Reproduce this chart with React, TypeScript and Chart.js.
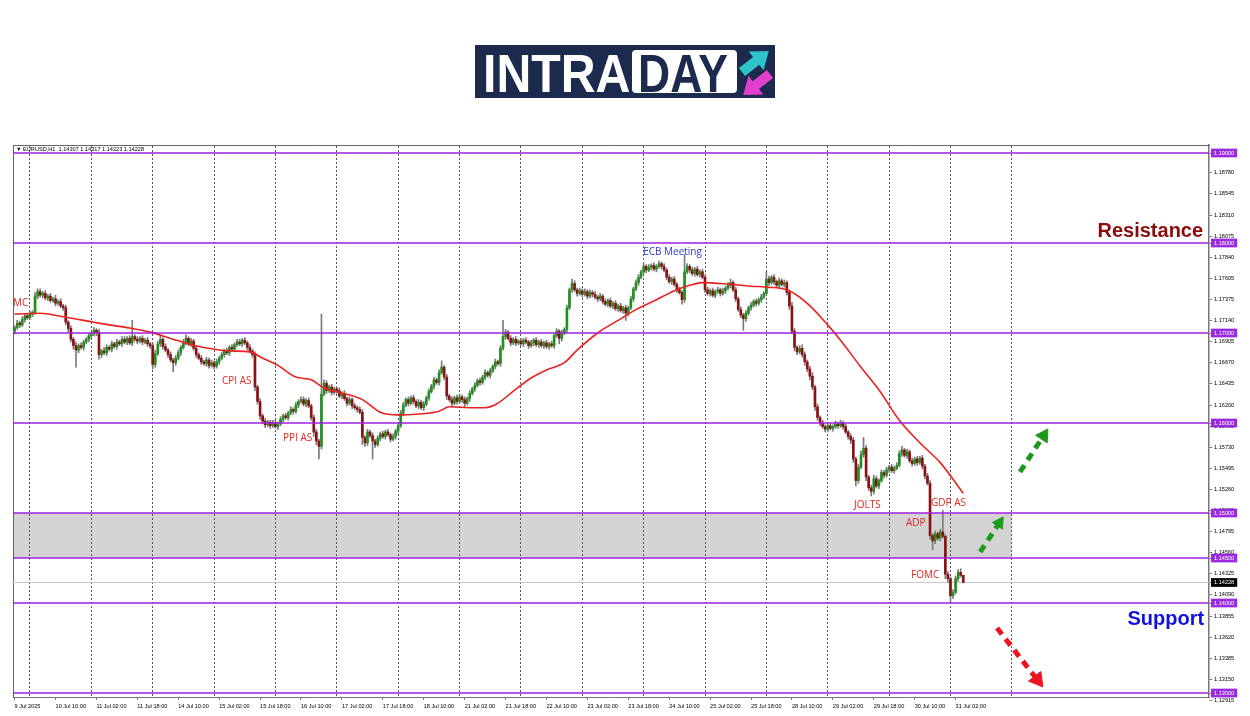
import React, { useEffect, useRef } from 'react';
import { Chart, registerables } from 'chart.js';

Chart.register(...registerables);

// ---------- Candle closes (H1 bars), one array per trading day ----------
const firstOpen = 1.1702;
const close09 = [1.1706, 1.1711, 1.1709, 1.1715, 1.1719, 1.1717];
const close10 = [1.1721, 1.1723, 1.1741, 1.1746, 1.1742, 1.1744, 1.1739, 1.1741, 1.1736, 1.1738, 1.1733, 1.1735, 1.1730, 1.1728, 1.1712, 1.1705, 1.1693, 1.1686, 1.1681, 1.1686, 1.1684, 1.1690, 1.1693, 1.1697];
const close11 = [1.1699, 1.1703, 1.1701, 1.1676, 1.1680, 1.1678, 1.1684, 1.1682, 1.1688, 1.1685, 1.1690, 1.1688, 1.1693, 1.1690, 1.1694, 1.1689, 1.1696, 1.1693, 1.1691, 1.1694, 1.1690, 1.1692, 1.1688, 1.1686];
const close14 = [1.1665, 1.1677, 1.1688, 1.1693, 1.1685, 1.1681, 1.1676, 1.1670, 1.1667, 1.1672, 1.1678, 1.1684, 1.1690, 1.1694, 1.1688, 1.1691, 1.1683, 1.1676, 1.1672, 1.1668, 1.1666, 1.1670, 1.1664, 1.1667];
const close15 = [1.1663, 1.1668, 1.1672, 1.1676, 1.1680, 1.1678, 1.1684, 1.1682, 1.1687, 1.1690, 1.1688, 1.1692, 1.1689, 1.1684, 1.1680, 1.1676, 1.1640, 1.1624, 1.1608, 1.1602, 1.1598, 1.1601, 1.1597, 1.1600];
const close16 = [1.1596, 1.1599, 1.1604, 1.1608, 1.1606, 1.1611, 1.1615, 1.1613, 1.1620, 1.1624, 1.1626, 1.1621, 1.1625, 1.1619, 1.1606, 1.1590, 1.1580, 1.1574, 1.1632, 1.1644, 1.1636, 1.1640, 1.1634, 1.1638];
const close17 = [1.1636, 1.1630, 1.1633, 1.1627, 1.1622, 1.1626, 1.1619, 1.1617, 1.1615, 1.1612, 1.1584, 1.1578, 1.1590, 1.1586, 1.1580, 1.1576, 1.1583, 1.1588, 1.1585, 1.1590, 1.1587, 1.1582, 1.1585, 1.1591];
const close18 = [1.1597, 1.1611, 1.1620, 1.1626, 1.1622, 1.1628, 1.1624, 1.1619, 1.1623, 1.1617, 1.1621, 1.1628, 1.1635, 1.1641, 1.1648, 1.1645, 1.1656, 1.1662, 1.1651, 1.1630, 1.1626, 1.1622, 1.1628, 1.1624];
const close21 = [1.1629, 1.1626, 1.1622, 1.1627, 1.1633, 1.1638, 1.1642, 1.1647, 1.1645, 1.1651, 1.1656, 1.1653, 1.1658, 1.1663, 1.1668, 1.1666, 1.1683, 1.1696, 1.1701, 1.1694, 1.1689, 1.1693, 1.1689, 1.1691];
const close22 = [1.1688, 1.1692, 1.1690, 1.1686, 1.1689, 1.1692, 1.1687, 1.1690, 1.1686, 1.1689, 1.1685, 1.1688, 1.1686, 1.1697, 1.1702, 1.1694, 1.1700, 1.1704, 1.1728, 1.1748, 1.1755, 1.1748, 1.1744, 1.1747];
const close23 = [1.1743, 1.1746, 1.1741, 1.1745, 1.1743, 1.1740, 1.1738, 1.1741, 1.1735, 1.1732, 1.1736, 1.1730, 1.1733, 1.1727, 1.1730, 1.1725, 1.1728, 1.1722, 1.1728, 1.1738, 1.1749, 1.1756, 1.1762, 1.1768];
const close24 = [1.1774, 1.1770, 1.1773, 1.1775, 1.1771, 1.1774, 1.1777, 1.1774, 1.1770, 1.1762, 1.1757, 1.1760, 1.1754, 1.1748, 1.1745, 1.1737, 1.1768, 1.1774, 1.1770, 1.1766, 1.1771, 1.1765, 1.1768, 1.1762];
const close25 = [1.1748, 1.1744, 1.1747, 1.1742, 1.1746, 1.1748, 1.1744, 1.1747, 1.1750, 1.1753, 1.1756, 1.1748, 1.1738, 1.1726, 1.1720, 1.1716, 1.1722, 1.1728, 1.1731, 1.1735, 1.1733, 1.1737, 1.1740, 1.1744];
const close28 = [1.1760, 1.1756, 1.1762, 1.1757, 1.1753, 1.1758, 1.1754, 1.1756, 1.1745, 1.1730, 1.1702, 1.1684, 1.1679, 1.1683, 1.1676, 1.1668, 1.1660, 1.1652, 1.1640, 1.1618, 1.1606, 1.1600, 1.1596, 1.1593];
const close29 = [1.1597, 1.1594, 1.1596, 1.1599, 1.1597, 1.1600, 1.1596, 1.1590, 1.1585, 1.1581, 1.1560, 1.1536, 1.1551, 1.1565, 1.1572, 1.1540, 1.1528, 1.1524, 1.1538, 1.1530, 1.1536, 1.1545, 1.1542, 1.1548];
const close30 = [1.1551, 1.1547, 1.1550, 1.1553, 1.1566, 1.1570, 1.1564, 1.1568, 1.1558, 1.1555, 1.1560, 1.1556, 1.1561, 1.1552, 1.1541, 1.1533, 1.1475, 1.1469, 1.1477, 1.1472, 1.1479, 1.1474, 1.1432, 1.1427];
const close31 = [1.1408, 1.1412, 1.1427, 1.1434, 1.14307, 1.14228];

// ---------- Upper / lower wick lengths in pips ----------
const up09 = [2, 3, 2, 3, 2, 3];
const dn09 = [3, 2, 3, 2, 3, 2];
const up10 = [3, 2, 4, 3, 3, 2, 3, 2, 3, 2, 4, 2, 3, 2, 3, 2, 3, 2, 4, 2, 3, 2, 2, 3];
const dn10 = [2, 3, 2, 3, 2, 3, 2, 3, 2, 2, 3, 2, 2, 3, 3, 4, 3, 4, 19, 3, 2, 3, 2, 3];
const up11 = [2, 3, 2, 3, 2, 4, 3, 2, 3, 2, 3, 2, 3, 3, 2, 3, 18, 2, 3, 2, 3, 2, 3, 2];
const dn11 = [3, 2, 4, 5, 3, 2, 3, 2, 3, 2, 3, 2, 3, 2, 3, 2, 3, 2, 3, 2, 3, 2, 3, 3];
const up14 = [3, 4, 3, 4, 2, 3, 2, 3, 2, 3, 3, 2, 3, 4, 2, 3, 2, 3, 2, 3, 2, 3, 2, 3];
const dn14 = [5, 3, 2, 3, 3, 2, 3, 2, 10, 3, 2, 3, 2, 3, 2, 3, 2, 3, 2, 3, 2, 3, 3, 2];
const up15 = [2, 3, 2, 3, 2, 3, 2, 3, 2, 3, 3, 2, 3, 2, 3, 2, 3, 2, 3, 2, 3, 2, 2, 3];
const dn15 = [3, 2, 3, 2, 3, 2, 3, 2, 3, 2, 2, 3, 2, 3, 2, 3, 4, 3, 4, 3, 3, 2, 3, 2];
const up16 = [3, 2, 3, 2, 3, 2, 3, 2, 3, 2, 3, 3, 2, 3, 2, 3, 3, 2, 89, 4, 3, 2, 3, 2];
const dn16 = [2, 3, 2, 3, 2, 3, 2, 3, 2, 3, 2, 2, 3, 2, 3, 5, 4, 14, 3, 2, 3, 2, 3, 2];
const up17 = [2, 3, 2, 3, 2, 3, 2, 3, 2, 3, 3, 2, 3, 2, 3, 2, 3, 2, 3, 2, 3, 2, 3, 2];
const dn17 = [3, 2, 3, 2, 3, 2, 3, 2, 3, 2, 8, 4, 3, 2, 20, 3, 2, 3, 2, 3, 2, 3, 2, 3];
const up18 = [2, 3, 3, 2, 3, 2, 3, 2, 3, 2, 3, 2, 3, 2, 3, 2, 3, 7, 2, 3, 2, 3, 2, 3];
const dn18 = [3, 2, 3, 2, 3, 2, 3, 2, 3, 2, 3, 2, 3, 2, 3, 2, 3, 2, 3, 4, 2, 3, 2, 3];
const up21 = [3, 2, 3, 2, 3, 2, 3, 2, 3, 2, 3, 2, 3, 2, 3, 2, 3, 18, 3, 2, 3, 2, 3, 2];
const dn21 = [2, 3, 4, 2, 3, 2, 3, 2, 3, 2, 3, 2, 3, 2, 3, 2, 3, 2, 3, 2, 3, 2, 3, 2];
const up22 = [3, 2, 3, 2, 3, 2, 3, 2, 3, 2, 3, 2, 3, 2, 3, 2, 3, 2, 3, 2, 5, 3, 2, 3];
const dn22 = [2, 3, 2, 3, 2, 3, 2, 3, 2, 3, 2, 3, 2, 3, 2, 6, 3, 2, 3, 2, 3, 2, 3, 2];
const up23 = [2, 3, 2, 3, 2, 3, 2, 3, 2, 3, 2, 3, 2, 3, 2, 3, 2, 3, 2, 3, 2, 3, 3, 2];
const dn23 = [3, 2, 3, 2, 3, 2, 3, 2, 3, 2, 3, 2, 3, 2, 3, 2, 3, 8, 3, 2, 3, 2, 3, 2];
const up24 = [3, 2, 3, 2, 3, 2, 3, 2, 3, 2, 3, 2, 3, 2, 3, 2, 19, 3, 2, 3, 2, 3, 2, 3];
const dn24 = [2, 3, 2, 3, 2, 3, 2, 3, 2, 3, 2, 3, 2, 3, 2, 5, 3, 2, 3, 2, 3, 2, 3, 2];
const up25 = [2, 3, 2, 3, 2, 3, 2, 3, 2, 3, 4, 2, 3, 2, 3, 2, 3, 2, 3, 2, 3, 2, 3, 2];
const dn25 = [3, 2, 3, 2, 3, 2, 3, 2, 3, 2, 3, 2, 3, 2, 3, 13, 3, 2, 3, 2, 3, 2, 3, 2];
const up28 = [8, 3, 2, 3, 2, 3, 2, 3, 2, 3, 4, 3, 2, 3, 4, 3, 2, 3, 4, 2, 3, 2, 3, 2];
const dn28 = [2, 3, 2, 3, 2, 3, 2, 3, 3, 4, 3, 4, 3, 2, 3, 4, 3, 4, 3, 4, 3, 3, 2, 3];
const up29 = [2, 3, 2, 3, 2, 3, 2, 3, 2, 3, 3, 2, 3, 4, 12, 3, 2, 3, 4, 3, 2, 3, 2, 3];
const dn29 = [3, 2, 3, 2, 3, 2, 3, 2, 3, 4, 4, 6, 3, 2, 3, 4, 3, 5, 3, 2, 3, 2, 3, 2];
const up30 = [2, 3, 2, 3, 3, 4, 2, 3, 2, 3, 2, 3, 2, 3, 2, 3, 3, 2, 3, 2, 3, 24, 2, 3];
const dn30 = [3, 2, 3, 2, 2, 3, 2, 3, 2, 3, 2, 3, 2, 3, 3, 2, 4, 10, 3, 2, 3, 2, 5, 4];
const up31 = [2, 3, 3, 3, 4, 0.1];
const dn31 = [7, 3, 2, 3, 2, 0.05];

// ---------- Moving average (read at sample bars) ----------
const maBars = [0, 10, 19, 31, 37, 44, 53, 61, 69, 76, 84, 92, 97, 103, 110, 116, 121, 127, 136, 143, 150, 158, 166, 170, 178, 184, 189, 194, 202, 208, 215, 220, 228, 236, 243, 251, 259, 264, 269, 280, 288, 294, 302, 310, 318, 323, 331, 338, 346, 354, 362, 371];
const maValues = [1.1721, 1.1722, 1.1718, 1.1712, 1.1709, 1.1706, 1.1701, 1.1694, 1.1687, 1.1683, 1.1680, 1.1679, 1.1672, 1.1664, 1.1651, 1.1648, 1.1639, 1.1634, 1.1626, 1.1612, 1.1609, 1.1610, 1.1613, 1.1618, 1.1617, 1.1617, 1.1622, 1.1633, 1.1650, 1.1659, 1.1667, 1.1681, 1.1700, 1.1714, 1.1726, 1.1737, 1.1748, 1.1753, 1.1756, 1.1754, 1.1752, 1.1751, 1.1748, 1.1733, 1.1709, 1.1692, 1.1662, 1.1637, 1.1603, 1.1578, 1.1556, 1.1522];

// ---------- Levels, zone, ticks ----------
const levels = [1.19, 1.18, 1.17, 1.16, 1.15, 1.145, 1.14, 1.13];
const lastPrice = 1.14228;
const zoneTop = 1.15;
const zoneBottom = 1.145;
const zoneEndBar = 390;
const yTicks = [1.1878, 1.18545, 1.1831, 1.18075, 1.1784, 1.17605, 1.17375, 1.1714, 1.16905, 1.1667, 1.16435, 1.162, 1.15965, 1.1573, 1.15495, 1.1526, 1.15025, 1.14795, 1.1456, 1.14325, 1.1409, 1.13855, 1.1362, 1.13385, 1.1315, 1.12915];
const xLabels = ['9 Jul 2025', '10 Jul 10:00', '11 Jul 02:00', '11 Jul 18:00', '14 Jul 10:00', '15 Jul 02:00', '15 Jul 18:00', '16 Jul 10:00', '17 Jul 02:00', '17 Jul 18:00', '18 Jul 10:00', '21 Jul 02:00', '21 Jul 18:00', '22 Jul 10:00', '23 Jul 02:00', '23 Jul 18:00', '24 Jul 10:00', '25 Jul 02:00', '25 Jul 18:00', '28 Jul 10:00', '29 Jul 02:00', '29 Jul 18:00', '30 Jul 10:00', '31 Jul 02:00'];
const headerText = '\u25BC EURUSD,H1  1.14307 1.14317 1.14223 1.14228';

// ---------- Annotations ----------
const noteTexts = ['MC', 'CPI AS', 'PPI AS', 'ECB Meeting', 'JOLTS', 'GDP AS', 'ADP', 'FOMC', 'Resistance', 'Support'];
const noteBars = [-0.63, 81.1, 105.0, 245.8, 328.3, 358.4, 348.6, 350.6, 464.8, 465.2];
const notePrices = [1.17333, 1.16467, 1.15833, 1.179, 1.15089, 1.15111, 1.14889, 1.14311, 1.18133, 1.13822];
const noteColors = ['#e8261f', '#e8261f', '#e8261f', '#2a35d8', '#e8261f', '#e8261f', '#e8261f', '#e8261f', '#8b0a0a', '#1212e0'];
const noteBig = [false, false, false, false, false, false, false, false, true, true];

const arrowTailBars = [393.2, 377.6, 384.2];
const arrowTailPrices = [1.15456, 1.14567, 1.13722];
const arrowHeadBars = [402.4, 385.1, 400.0];
const arrowHeadPrices = [1.15859, 1.14891, 1.13146];
const arrowColors = ['#1c9a1c', '#1c9a1c', '#ea1520'];
const arrowRotations = [33, 33, 142];
const arrowHeadSizes = [8, 7, 9];

const X_MIN = -0.63;
const X_MAX = 467.1;
const Y_MIN = 1.129556;
const Y_MAX = 1.190889;
const LABEL_STEP = 16;
const GRID_FIRST = 6;
const GRID_STEP = 24;
const GRID_LAST = 390;
const PIP = 0.0001;
const LEVEL_COLOR = '#a020e0';
const UP_COLOR = '#1f8f1f';
const DOWN_COLOR = '#8b1212';
const SMALL_FONT = { family: '"Liberation Sans", Arial, sans-serif', size: 5.6 };

const isLevel = (v: number) => levels.some((l) => Math.abs(l - v) < 1e-9);
const isLast = (v: number) => Math.abs(v - lastPrice) < 1e-9;

const notesPlugin = {
  id: 'notes',
  afterDatasetsDraw(chart: any) {
    const { ctx, chartArea } = chart;
    const xs = chart.scales.x;
    const ys = chart.scales.y;
    ctx.save();
    ctx.textBaseline = 'middle';
    ctx.textAlign = 'left';
    ctx.fillStyle = '#000';
    ctx.font = '5.6px "Liberation Sans", "DejaVu Sans", sans-serif';
    ctx.fillText(headerText, chartArea.left + 3, chartArea.top + 4.5);
    noteTexts.forEach((t, k) => {
      const big = noteBig[k];
      ctx.font = big ? 'bold 20px "Liberation Sans", Arial, sans-serif' : '10px "Open Sans", sans-serif';
      ctx.textAlign = big ? 'right' : 'left';
      ctx.fillStyle = noteColors[k];
      ctx.fillText(t, xs.getPixelForValue(noteBars[k]), ys.getPixelForValue(notePrices[k]));
    });
    ctx.restore();
  },
};

export default function App() {
  const ref = useRef<HTMLCanvasElement | null>(null);

  useEffect(() => {
    const canvas = ref.current;
    if (!canvas) return;
    const closes = [...close09, ...close10, ...close11, ...close14, ...close15, ...close16, ...close17, ...close18, ...close21, ...close22, ...close23, ...close24, ...close25, ...close28, ...close29, ...close30, ...close31];
    const wickUp = [...up09, ...up10, ...up11, ...up14, ...up15, ...up16, ...up17, ...up18, ...up21, ...up22, ...up23, ...up24, ...up25, ...up28, ...up29, ...up30, ...up31];
    const wickDn = [...dn09, ...dn10, ...dn11, ...dn14, ...dn15, ...dn16, ...dn17, ...dn18, ...dn21, ...dn22, ...dn23, ...dn24, ...dn25, ...dn28, ...dn29, ...dn30, ...dn31];
    const opens = closes.map((c, i) => (i === 0 ? firstOpen : closes[i - 1]));
    const highs = closes.map((c, i) => Math.max(opens[i], c) + wickUp[i] * PIP);
    const lows = closes.map((c, i) => Math.min(opens[i], c) - wickDn[i] * PIP);
    const idx = closes.map((_, i) => i);

    const common = { xAxisID: 'x', yAxisID: 'y' };
    const datasets: any[] = [
      {
        ...common, type: 'line', label: 'zone',
        data: [{ x: X_MIN, y: zoneTop }, { x: zoneEndBar, y: zoneTop }],
        fill: { value: zoneBottom }, backgroundColor: '#d3d3d3',
        borderColor: 'rgba(0,0,0,0)', borderWidth: 0, pointRadius: 0, order: 20,
      },
      {
        ...common, type: 'line', label: 'bid',
        data: [{ x: X_MIN, y: lastPrice }, { x: X_MAX, y: lastPrice }],
        borderColor: '#c8c8c8', borderWidth: 1, pointRadius: 0, fill: false, order: 19,
      },
      {
        ...common, type: 'bar', label: 'wicks',
        data: idx.map((i) => ({ x: i, y: [lows[i], highs[i]] })),
        backgroundColor: '#7a7a7a', barThickness: 1, grouped: false, borderWidth: 0, order: 18,
      },
      {
        ...common, type: 'bar', label: 'bodies',
        data: idx.map((i) => ({ x: i, y: [opens[i], closes[i]] })),
        backgroundColor: idx.map((i) => (closes[i] >= opens[i] ? UP_COLOR : DOWN_COLOR)),
        barThickness: 2, grouped: false, borderWidth: 0, minBarLength: 1, order: 17,
      },
      {
        ...common, type: 'line', label: 'MA',
        data: maBars.map((b, k) => ({ x: b, y: maValues[k] })),
        borderColor: '#e8231f', borderWidth: 1.6, pointRadius: 0,
        cubicInterpolationMode: 'monotone', fill: false, order: 16,
      },
      ...levels.map((l) => ({
        ...common, type: 'line', label: 'level ' + l,
        data: [{ x: X_MIN, y: l }, { x: X_MAX, y: l }],
        borderColor: LEVEL_COLOR, borderWidth: 1.6, pointRadius: 0, fill: false, order: 5,
      })),
      ...arrowColors.map((col, k) => ({
        ...common, type: 'line', label: 'arrow ' + k,
        data: [
          { x: arrowTailBars[k], y: arrowTailPrices[k] },
          { x: arrowHeadBars[k], y: arrowHeadPrices[k] },
        ],
        borderColor: col, borderWidth: 5, borderDash: [8, 6], borderCapStyle: 'butt', fill: false,
        pointStyle: 'triangle', pointRadius: [0, arrowHeadSizes[k]],
        pointRotation: [0, arrowRotations[k]],
        pointBackgroundColor: col, pointBorderColor: col, pointBorderWidth: 1, order: 1,
      })),
    ];

    const chart = new Chart(canvas, {
      type: 'bar',
      data: { datasets },
      options: {
        responsive: false,
        animation: false,
        events: [],
        layout: { padding: { left: 13, top: 145, right: 0, bottom: 0 } },
        plugins: {
          legend: { display: false },
          tooltip: { enabled: false },
          filler: { drawTime: 'beforeDraw' },
        },
        scales: {
          x: {
            type: 'linear', position: 'bottom', min: X_MIN, max: X_MAX, offset: false, bounds: 'data',
            afterBuildTicks: (s: any) => { s.ticks = xLabels.map((_, k) => ({ value: k * LABEL_STEP })); },
            afterFit: (s: any) => { s.height = 19; },
            ticks: {
              autoSkip: false, maxRotation: 0, minRotation: 0, align: 'start', padding: 3,
              font: SMALL_FONT, color: '#000',
              callback: (v: any) => xLabels[Math.round(Number(v) / LABEL_STEP)] ?? '',
            },
            grid: { offset: false, drawOnChartArea: false, drawTicks: true, tickLength: 3, color: '#777' },
            border: { display: true, color: '#777', width: 1 },
          },
          xg: {
            type: 'linear', position: 'top', min: X_MIN, max: X_MAX, offset: false, bounds: 'data',
            afterBuildTicks: (s: any) => {
              const t: any[] = [];
              for (let v = GRID_FIRST; v <= GRID_LAST; v += GRID_STEP) t.push({ value: v });
              s.ticks = t;
            },
            afterFit: (s: any) => { s.height = 0; },
            ticks: { display: false },
            grid: { offset: false, drawOnChartArea: true, drawTicks: false, color: '#555', lineWidth: 1 },
            border: { display: true, color: '#666', width: 1, dash: [2, 2] },
          },
          y: {
            type: 'linear', position: 'right', min: Y_MIN, max: Y_MAX, bounds: 'data',
            afterBuildTicks: (s: any) => {
              s.ticks = [...yTicks, ...levels, lastPrice].map((v) => ({ value: v }));
            },
            afterFit: (s: any) => { s.width = 41; },
            ticks: {
              autoSkip: false, padding: 2, font: SMALL_FONT,
              color: (c: any) => (isLevel(c.tick.value) || isLast(c.tick.value) ? '#fff' : '#000'),
              showLabelBackdrop: true,
              backdropPadding: { x: 3, y: 1 },
              backdropColor: (c: any) => (isLevel(c.tick.value) ? '#9a2ae0' : isLast(c.tick.value) ? '#000' : 'rgba(0,0,0,0)'),
              callback: (v: any) => Number(v).toFixed(5),
            },
            grid: { offset: false, drawOnChartArea: false, drawTicks: true, tickLength: 3, color: '#777' },
            border: { display: true, color: '#777', width: 1.5 },
          },
          yl: {
            type: 'linear', position: 'left', min: Y_MIN, max: Y_MAX, bounds: 'data',
            afterFit: (s: any) => { s.width = 0; },
            ticks: { display: false },
            grid: { display: false, drawTicks: false },
            border: { display: true, color: '#666', width: 1 },
          },
        },
      } as any,
      plugins: [notesPlugin],
    } as any);

    return () => chart.destroy();
  }, []);

  const navy = '#1c2a4d';
  return (
    <div style={{ position: 'fixed', left: 0, top: 0, width: 1250, height: 716, background: '#fff', overflow: 'hidden' }}>
      <canvas ref={ref} width={1250} height={716} style={{ position: 'absolute', left: 0, top: 0, width: 1250, height: 716 }} />
      <div style={{ position: 'absolute', left: 475, top: 45, width: 300, height: 53, background: navy, overflow: 'hidden' }}>
        <div style={{ position: 'absolute', left: 8, top: 2, height: 53, lineHeight: '53px', fontFamily: '"Liberation Sans", Arial, sans-serif', fontWeight: 700, fontSize: 53, color: '#fff', transform: 'scaleX(0.91)', transformOrigin: 'left center', whiteSpace: 'nowrap' }}>INTRA</div>
        <div style={{ position: 'absolute', left: 157, top: 5, width: 105, height: 43, background: '#fff', borderRadius: 4 }} />
        <div style={{ position: 'absolute', left: 163, top: 2, height: 53, lineHeight: '53px', fontFamily: '"Liberation Sans", Arial, sans-serif', fontWeight: 700, fontSize: 53, color: navy, transform: 'scaleX(0.84)', transformOrigin: 'left center', whiteSpace: 'nowrap' }}>DAY</div>
        <svg style={{ position: 'absolute', left: 261, top: 0 }} width={39} height={53}>
          <polygon points="0,-5 18,-5 18,-12 34,0 18,12 18,5 0,5" fill="#2ec3c9" transform="translate(6,27) rotate(-38)" />
          <polygon points="0,-5 18,-5 18,-12 34,0 18,12 18,5 0,5" fill="#e33fcf" transform="translate(34,29) rotate(142)" />
        </svg>
      </div>
    </div>
  );
}
